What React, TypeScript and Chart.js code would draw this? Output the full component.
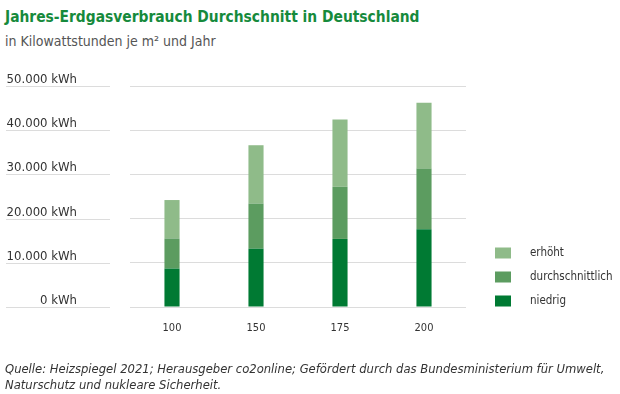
import React, { useEffect, useRef } from "react";
import { Chart, registerables } from "chart.js";

Chart.register(...registerables);

const categories = ["100", "150", "175", "200"];
const niedrig = [8700, 13200, 15400, 17600];
const durchschnittlich = [6800, 10200, 11800, 13700];
const erhoeht = [8700, 13200, 15200, 14900];
const yTickValues = [0, 10000, 20000, 30000, 40000, 50000];
const legendLabels = ["erhöht", "durchschnittlich", "niedrig"];

const COL_DARK = "#007a33";
const COL_MID = "#5c9c60";
const COL_LIGHT = "#8fbb89";
const FONT = "'DejaVu Sans Condensed', 'DejaVu Sans', sans-serif";

const fmt = (v: number) => v.toString().replace(/\B(?=(\d{3})+(?!\d))/g, ".") + " kWh";

const sidePlugin = {
  id: "side",
  afterDraw(chart: any) {
    const ctx = chart.ctx;
    const y = chart.scales.y;
    ctx.save();
    ctx.strokeStyle = "#dcdcdc";
    ctx.lineWidth = 1;
    ctx.fillStyle = "#333333";
    ctx.font = `13px ${FONT}`;
    ctx.textAlign = "right";
    ctx.textBaseline = "alphabetic";
    yTickValues.forEach((v) => {
      const py = Math.round(y.getPixelForValue(v)) + 0.5;
      ctx.beginPath();
      ctx.moveTo(6, py);
      ctx.lineTo(110, py);
      ctx.stroke();
      ctx.fillText(fmt(v), 77, py - 4);
    });
    const colors = [COL_LIGHT, COL_MID, COL_DARK];
    const ys = [253, 277, 301];
    ctx.textAlign = "left";
    ctx.textBaseline = "middle";
    ctx.font = `11.5px ${FONT}`;
    legendLabels.forEach((t, i) => {
      ctx.fillStyle = colors[i];
      ctx.fillRect(495, ys[i] - 5.5, 16, 11);
      ctx.fillStyle = "#333333";
      ctx.fillText(t, 530, ys[i]);
    });
    ctx.restore();
  },
};

export default function App() {
  const ref = useRef<HTMLCanvasElement | null>(null);
  useEffect(() => {
    if (!ref.current) return;
    const common = { categoryPercentage: 1, barPercentage: 0.18 };
    const chart = new Chart(ref.current, {
      type: "bar",
      data: {
        labels: categories,
        datasets: [
          { label: "niedrig", data: niedrig, backgroundColor: COL_DARK, ...common },
          { label: "durchschnittlich", data: durchschnittlich, backgroundColor: COL_MID, ...common },
          { label: "erhöht", data: erhoeht, backgroundColor: COL_LIGHT, ...common },
        ],
      },
      options: {
        animation: false,
        responsive: false,
        maintainAspectRatio: false,
        layout: { padding: { left: 130, right: 154, top: 86, bottom: 47 } },
        plugins: { legend: { display: false }, tooltip: { enabled: false }, title: { display: false } },
        scales: {
          x: {
            stacked: true,
            grid: { display: false, drawTicks: false },
            border: { display: false },
            ticks: { color: "#333333", font: { family: FONT, size: 11 }, padding: 15 },
            afterFit: (s: any) => { s.height = 40; },
          } as any,
          y: {
            stacked: true,
            min: 0,
            max: 50000,
            grid: { color: "#dcdcdc", lineWidth: 1, drawTicks: false },
            border: { display: false },
            ticks: { display: false, stepSize: 10000 },
            afterFit: (s: any) => { s.width = 0; },
          },
        },
      },
      plugins: [sidePlugin],
    });
    return () => chart.destroy();
  }, []);

  return (
    <div style={{ position: "fixed", left: 0, top: 0, width: 620, height: 394, background: "#fff", overflow: "hidden" }}>
      <div style={{ position: "absolute", left: 5, top: 8, fontFamily: FONT, fontWeight: "bold", fontSize: 15.4, color: "#168a3c", whiteSpace: "nowrap", lineHeight: "18px" }}>
        Jahres-Erdgasverbrauch Durchschnitt in Deutschland
      </div>
      <div style={{ position: "absolute", left: 5, top: 32, fontFamily: FONT, fontSize: 14, color: "#555555", whiteSpace: "nowrap", lineHeight: "18px" }}>
        in Kilowattstunden je m² und Jahr
      </div>
      <canvas ref={ref} width={620} height={394} style={{ position: "absolute", left: 0, top: 0, width: 620, height: 394 }} />
      <div style={{ position: "absolute", left: 5, top: 361, fontFamily: FONT, fontStyle: "italic", fontSize: 12.9, color: "#333333", lineHeight: "15.5px", whiteSpace: "nowrap" }}>
        Quelle: Heizspiegel 2021; Herausgeber co2online; Gefördert durch das Bundesministerium für Umwelt,<br />
        Naturschutz und nukleare Sicherheit.
      </div>
    </div>
  );
}
